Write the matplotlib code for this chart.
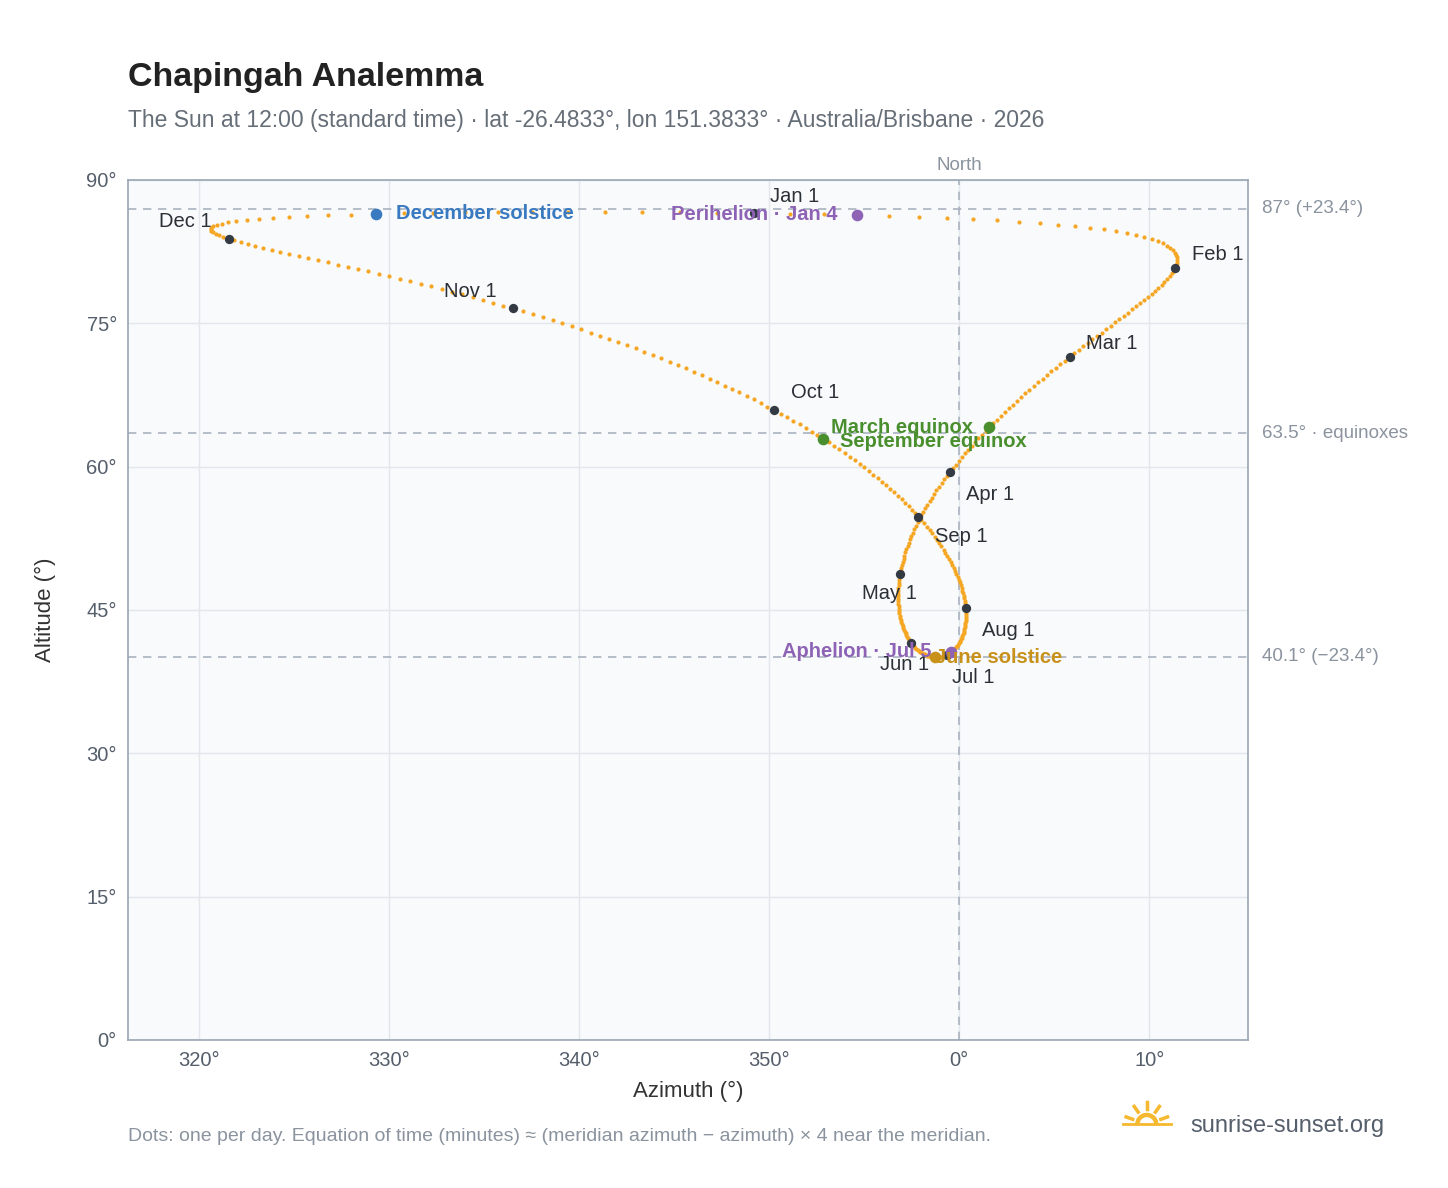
import numpy as np
import matplotlib
matplotlib.use("Agg")
import matplotlib.pyplot as plt
import datetime as dt

plt.rcParams['font.family'] = ['Liberation Sans', 'DejaVu Sans']

# ---- data ----
LAT = -26.4833
LON = 151.3833
TZ = 10
YEAR = 2026
CLOCK_HOUR = 12
month_labels = ["Jan 1", "Feb 1", "Mar 1", "Apr 1", "May 1", "Jun 1",
                "Jul 1", "Aug 1", "Sep 1", "Oct 1", "Nov 1", "Dec 1"]
event_names = ["March equinox", "June solstice", "September equinox", "December solstice",
               "Perihelion · Jan 4", "Aphelion · Jul 5"]
event_dates = [(3, 20), (6, 21), (9, 23), (12, 21), (1, 4), (7, 5)]
event_colors = ["#4a8f2e", "#c8911a", "#4a8f2e", "#3a7ac0", "#8e63b5", "#8e63b5"]
ref_alts = [87.0, 63.5, 40.1]
ref_labels = ["87° (+23.4°)", "63.5° · equinoxes", "40.1° (−23.4°)"]


def sunpos(doy, ndays):
    hr_utc = CLOCK_HOUR - TZ
    g = 2 * np.pi / ndays * (doy - 1 + (hr_utc - 12) / 24)
    eqt = 229.18 * (0.000075 + 0.001868 * np.cos(g) - 0.032077 * np.sin(g)
                    - 0.014615 * np.cos(2 * g) - 0.040849 * np.sin(2 * g))
    dec = (0.006918 - 0.399912 * np.cos(g) + 0.070257 * np.sin(g) - 0.006758 * np.cos(2 * g)
           + 0.000907 * np.sin(2 * g) - 0.002697 * np.cos(3 * g) + 0.00148 * np.sin(3 * g))
    tst = CLOCK_HOUR * 60 + eqt + 4 * LON - 60 * TZ
    ha = np.radians(tst / 4 - 180)
    lat = np.radians(LAT)
    cz = np.sin(lat) * np.sin(dec) + np.cos(lat) * np.cos(dec) * np.cos(ha)
    alt = 90 - np.degrees(np.arccos(cz))
    az = np.degrees(np.arctan2(np.sin(ha), np.cos(ha) * np.sin(lat) - np.tan(dec) * np.cos(lat))) + 180
    az = (az + 180) % 360 - 180
    return az, alt


ndays = 365
doys = np.arange(1, ndays + 1)
AZ, ALT = sunpos(doys, ndays)

fig = plt.figure(figsize=(14.48, 11.88), dpi=100)
ax = fig.add_axes([0.0884, 0.1246, 0.7735, 0.7239])
ax.set_facecolor("#f8fafc")
ax.set_xlim(-43.75, 15.2)
ax.set_ylim(0, 90)
ax.set_xticks([-40, -30, -20, -10, 0, 10])
ax.set_xticklabels(["320°", "330°", "340°", "350°", "0°", "10°"])
ax.set_yticks(range(0, 91, 15))
ax.set_yticklabels([f"{v}°" for v in range(0, 91, 15)])
ax.grid(color="#e3e7ec", lw=1)
ax.set_axisbelow(True)
for s in ax.spines.values():
    s.set_color("#9aa5b4")
    s.set_linewidth(1.2)
ax.tick_params(colors="#555e6b", labelsize=14.5, length=0, pad=8)
ax.set_xlabel("Azimuth (°)", fontsize=16, color="#333", labelpad=8)
ax.set_ylabel("Altitude (°)", fontsize=16, color="#333", labelpad=22)

for a, l in zip(ref_alts, ref_labels):
    ax.axhline(a, color="#a9b3bf", ls=(0, (5, 4)), lw=1.2, zorder=1)
    ax.annotate(l, (1.0, a), xycoords=("axes fraction", "data"), xytext=(10, 0),
                textcoords="offset points", va="center", fontsize=13.5, color="#8a939e")
ax.axvline(0, color="#a9b3bf", ls=(0, (5, 4)), lw=1.2, zorder=1)
ax.annotate("North", (0, 1.0), xycoords=("data", "axes fraction"), xytext=(0, 7),
            textcoords="offset points", ha="center", fontsize=13.5, color="#8a939e")

ax.scatter(AZ, ALT, s=9, color="#f5a623", lw=0, zorder=3)

offs = [(12, 12), (12, 10), (12, 10), (12, -16), (12, -14), (-5, -16),
        (4, -16), (12, -16), (12, -14), (12, 13), (-12, 12), (-12, 12)]
has = ["left", "left", "left", "left", "right", "center", "left", "left", "left", "left", "right", "right"]
for m in range(12):
    d = dt.date(YEAR, m + 1, 1).timetuple().tm_yday
    ax.scatter(AZ[d - 1], ALT[d - 1], s=45, color="#343a44", zorder=5, lw=0)
    ax.annotate(month_labels[m], (AZ[d - 1], ALT[d - 1]), xytext=offs[m], textcoords="offset points",
                ha=has[m], va="center", fontsize=14.5, color="#2b2f36", zorder=6)

ev_off = [(-12, 0), (0, 0), (12, -2), (14, 0), (-14, 0), (-14, 0)]
ev_ha = ["right", "left", "left", "left", "right", "right"]
for n, (mm, dd), c, o, h in zip(event_names, event_dates, event_colors, ev_off, ev_ha):
    d = dt.date(YEAR, mm, dd).timetuple().tm_yday
    x, y = AZ[d - 1], ALT[d - 1]
    ax.scatter(x, y, s=70, color=c, zorder=6, lw=0)
    ax.annotate(n, (x, y), xytext=o, textcoords="offset points", ha=h, va="center",
                fontsize=14.5, fontweight="bold", color=c, zorder=7)

fig.text(0.0884, 0.928, "Chapingah Analemma", fontsize=24.5, fontweight="bold", color="#222")
fig.text(0.0884, 0.893, "The Sun at 12:00 (standard time) · lat -26.4833°, lon 151.3833° · Australia/Brisbane · 2026",
         fontsize=16.5, color="#666e78")
fig.text(0.0884, 0.0395, "Dots: one per day. Equation of time (minutes) ≈ (meridian azimuth − azimuth) × 4 near the meridian.",
         fontsize=14, color="#8a939e")
fig.text(0.822, 0.0475, "sunrise-sunset.org", fontsize=17, color="#555e6b")
# logo
lx, ly = 0.792, 0.0535
fig.patches.append(matplotlib.patches.Wedge((lx * 1448, ly * 1188), 11, 0, 180, width=3,
                   color="#f5b82e", transform=None))
for ang in np.radians([20, 55, 90, 125, 160]):
    fig.add_artist(plt.Line2D([lx * 1448 + 15 * np.cos(ang), lx * 1448 + 22 * np.cos(ang)],
                              [ly * 1188 + 15 * np.sin(ang), ly * 1188 + 22 * np.sin(ang)],
                              color="#f5b82e", lw=2.5, transform=None))
fig.add_artist(plt.Line2D([lx * 1448 - 24, lx * 1448 + 24], [ly * 1188, ly * 1188],
                          color="#f5b82e", lw=2, transform=None))
fig.savefig("out.png", dpi=100)
